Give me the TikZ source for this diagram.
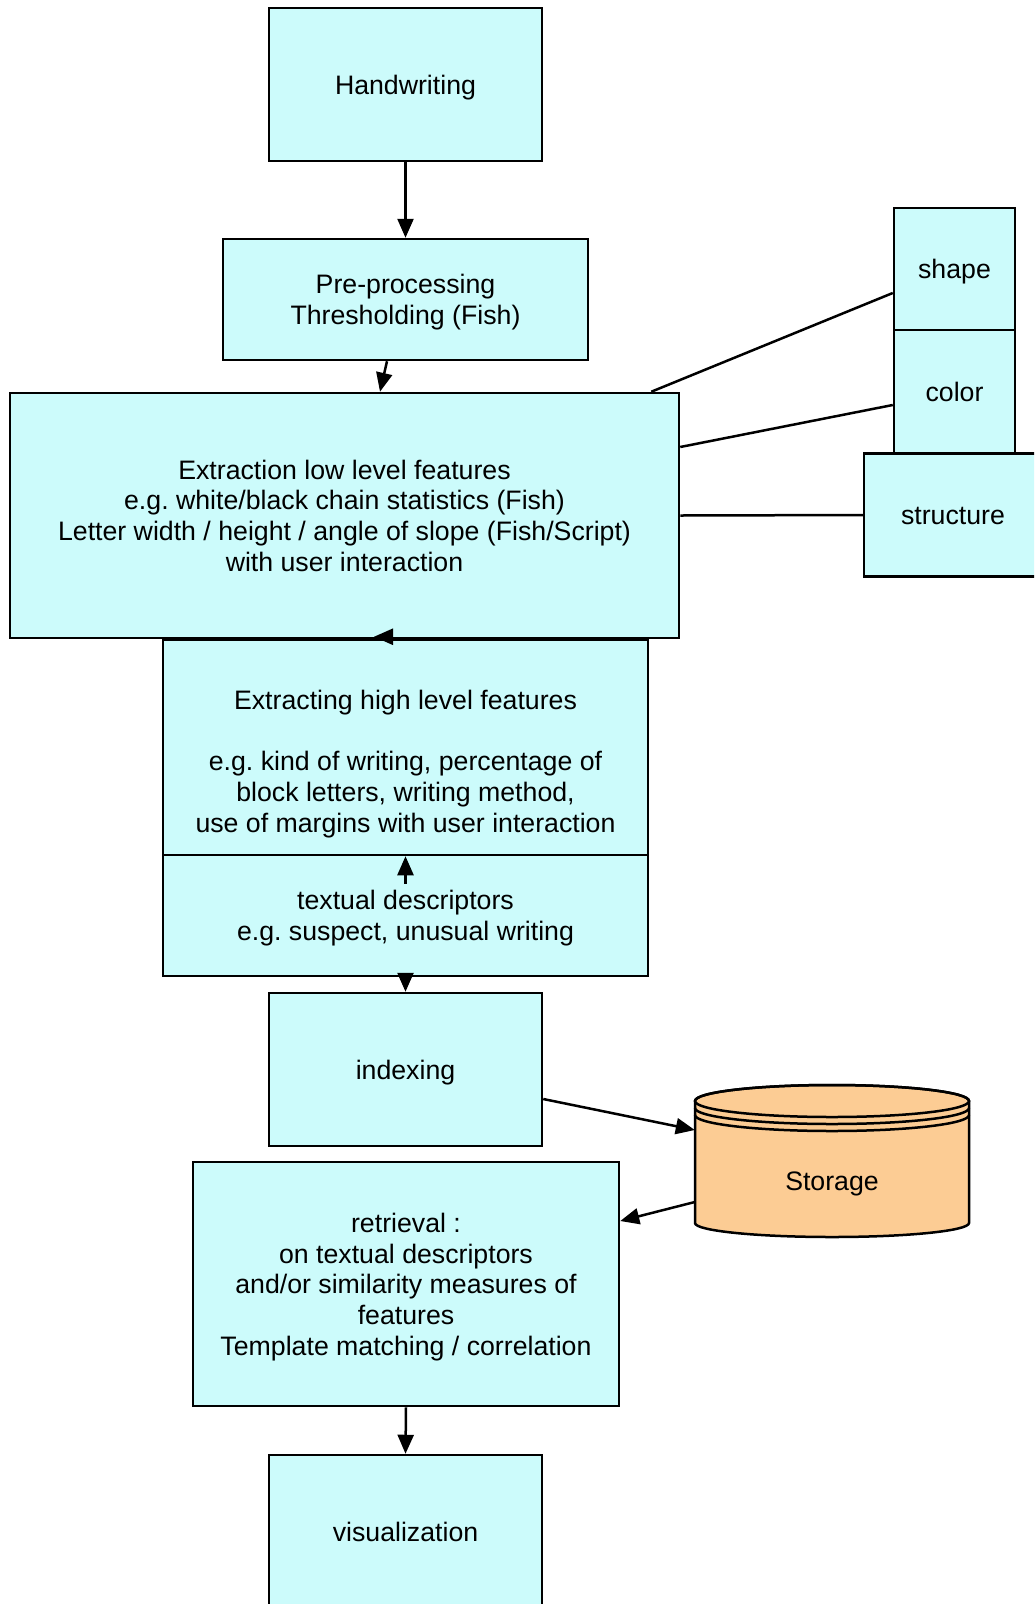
\documentclass[tikz,border=0pt]{standalone}
\usepackage{fontspec}
\setmainfont{Liberation Sans}
\frenchspacing
\usetikzlibrary{arrows.meta}
\definecolor{boxfill}{RGB}{204,251,251}
\definecolor{dbfill}{RGB}{252,204,148}
% struts giving every label the same first-line height and last-line depth
\newcommand{\firststrut}{\rule{0pt}{29.2pt}}
\newcommand{\laststrut}{\rule[-9.6pt]{0pt}{0pt}}
\tikzset{
  lbl/.style={inner sep=0pt, align=center, font=\fontsize{26.7}{30.7}\selectfont,
    execute at begin node=\firststrut, execute at end node=\laststrut},
  box/.style={lbl, draw=black, fill=boxfill, line width=2.5pt, rectangle},
  txt/.style={lbl},
  arr/.style={line width=2.5pt, -{Triangle[length=19pt,width=16pt]}},
  link/.style={line width=2.5pt},
}
\begin{document}
\begin{tikzpicture}[x=1pt,y=-1pt]
\useasboundingbox (0,0) rectangle (1034,1604);
\clip (0,0) rectangle (1034,1604);
\fill[white] (0,0) rectangle (1034,1604);

% main column
\node[box, minimum width=273pt, minimum height=153pt] (hand) at (405.5,84.5) {Handwriting};
\node[box, minimum width=365pt, minimum height=121pt] (pre) at (405.5,299.5)
  {\firststrut Pre-processing\\Thresholding (Fish)\laststrut};
\node[box, minimum width=669pt, minimum height=245pt] (low) at (344.5,515.5)
  {\firststrut Extraction low level features\\e.g. white/black chain statistics (Fish)\\Letter width / height / angle of slope (Fish/Script)\\with user interaction\laststrut};
\node[box, minimum width=485pt, minimum height=215pt] (high) at (405.5,747.5) {};
\node[txt] (hightext) at (405.5,761)
  {\firststrut Extracting high level features\\[30.7pt]e.g. kind of writing, percentage of\\block letters, writing method,\\use of margins with user interaction\laststrut};
\node[box, minimum width=485pt, minimum height=121pt] (td) at (405.5,915.5)
  {\firststrut textual descriptors\\e.g. suspect, unusual writing\laststrut};
\node[box, minimum width=273pt, minimum height=153pt] (idx) at (405.5,1069.5) {indexing};
\node[box, minimum width=426pt, minimum height=244pt] (ret) at (406,1284)
  {\firststrut retrieval :\\on textual descriptors\\and/or similarity measures of\\features\\Template matching / correlation\laststrut};
\node[box, minimum width=273pt, minimum height=153pt] (vis) at (405.5,1531.5) {visualization};

% feature boxes on the right
\node[box, minimum width=121pt, minimum height=122pt] (shape) at (954.5,269) {shape};
\node[box, minimum width=121pt, minimum height=123pt] (color) at (954.5,391.5) {color};
\node[box, minimum width=178pt, minimum height=123pt] (struct) at (953,515) {structure};

% storage cylinder
\node[inner sep=0pt, minimum width=274pt, minimum height=152pt] (store) at (832,1161) {};
\filldraw[fill=dbfill, draw=black, line width=2.5pt]
  (695,1101) -- (695,1223) arc (180:0:137 and 14) -- (969,1101) arc (0:-180:137 and 16) -- cycle;
\draw[line width=2.5pt] (832,1101) ellipse (137 and 16);
\draw[line width=2.5pt] (695,1108) arc (180:0:137 and 16);
\draw[line width=2.5pt] (695,1115) arc (180:0:137 and 16);
\node[txt] (storetext) at (832,1181) {Storage};

% connectors
\draw[arr] (hand.south) -- (pre.north);
\draw[arr] ([xshift=-18.5pt]pre.south) -- ([xshift=35.5pt]low.north);
\draw[link] ([xshift=-29pt]low.north east) -- ([yshift=-24pt]shape.west);
\draw[link] ([yshift=68.5pt]low.east) -- ([yshift=-13.5pt]color.west);
\draw[link] (low.east) -- (struct.west);
\draw[arr] ([xshift=-12.5pt,yshift=2pt]high.north) -- ([xshift=-31.5pt,yshift=2pt]high.north);
\draw[arr] ([yshift=-30pt]td.north) -- (high.south);
\draw[arr] (td.south) -- (idx.north);
\draw[arr] ([yshift=-29.5pt]idx.east) -- ([yshift=31pt]store.west);
\draw[arr] ([yshift=-41pt]store.west) -- ([yshift=63pt]ret.east);
\draw[arr] (ret.south) -- (vis.north);
\end{tikzpicture}
\end{document}
